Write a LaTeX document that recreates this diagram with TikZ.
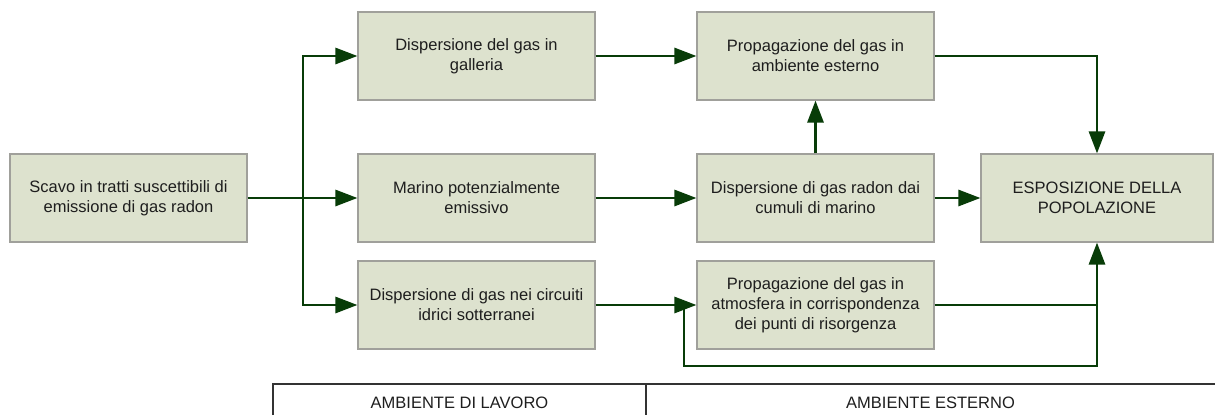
\documentclass[tikz,border=0pt]{standalone}
\usepackage{fontspec}
\setmainfont{Liberation Sans}
\usetikzlibrary{arrows.meta}
\definecolor{boxfill}{RGB}{221,226,206}
\definecolor{boxline}{RGB}{160,160,155}
\definecolor{flowgreen}{RGB}{8,60,8}
\definecolor{txt}{RGB}{30,30,30}
\tikzset{
  box/.style={draw=boxline, line width=1.1pt, fill=boxfill, minimum width=237pt, minimum height=88pt,
    inner sep=0pt, align=center, text=txt, font=\fontsize{16.5}{20}\selectfont},
  flow/.style={draw=flowgreen, line width=2.8pt, -{Triangle[length=22pt,width=16pt]}},
  plainflow/.style={draw=flowgreen, line width=2.8pt},
  tabline/.style={draw=black!80, line width=1.3pt},
  tabtext/.style={text=txt, font=\fontsize{16.5}{20}\selectfont}
}
\begin{document}
\begin{tikzpicture}[x=1pt,y=-1pt]
\useasboundingbox (0,0) rectangle (1215,415);
\node[box] (scavo) at (128.5,198) {Scavo in tratti suscettibili di\\emissione di gas radon};
\node[box] (gall) at (476.5,56) {Dispersione del gas in\\galleria};
\node[box] (mar) at (476.5,198) {Marino potenzialmente\\emissivo};
\node[box] (circ) at (476.5,305) {Dispersione di gas nei circuiti\\idrici sotterranei};
\node[box] (prop) at (815.5,56) {Propagazione del gas in\\ambiente esterno};
\node[box] (cum) at (815.5,198) {Dispersione di gas radon dai\\cumuli di marino};
\node[box] (atm) at (815.5,305) {Propagazione del gas in\\atmosfera in corrispondenza\\dei punti di risorgenza};
\node[box, minimum width=232pt] (esp) at (1097,198) {ESPOSIZIONE DELLA\\POPOLAZIONE};
% connectors
\coordinate (split) at (303,198);
\draw[flow] (scavo.east) -- (mar.west);
\draw[flow] (split) |- (gall.west);
\draw[flow] (split) |- (circ.west);
\draw[flow] (gall.east) -- (prop.west);
\draw[flow] (mar.east) -- (cum.west);
\draw[flow] (cum.north) -- (prop.south);
\draw[flow] (cum.east) -- (esp.west);
\draw[flow] (prop.east) -| (esp.north);
\draw[flow] (circ.east) -- (atm.west);
\draw[flow] (atm.east) -| (esp.south);
\coordinate (lb) at (684,366);
\draw[plainflow] (atm.east -| esp.south) |- (lb) -- (lb |- atm.west);
% bottom table
\coordinate (tl) at (273,384);
\coordinate (tm) at (646,384);
\coordinate (tr) at (1215,384);
\draw[tabline] (273,415) -- (tl) -- (tr);
\draw[tabline] (tm) -- (646,415);
\node[tabtext] (lav) at (459.5,403) {AMBIENTE DI LAVORO};
\node[tabtext] (est) at (930.5,403) {AMBIENTE ESTERNO};
\end{tikzpicture}
\end{document}
